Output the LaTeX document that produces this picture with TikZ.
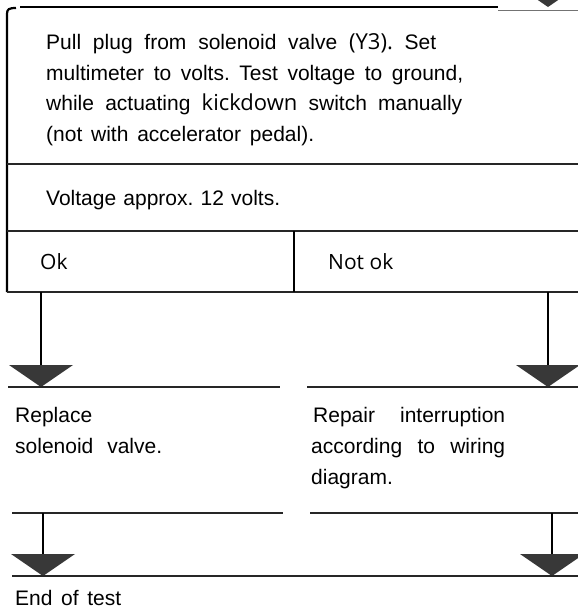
\documentclass[tikz,border=0pt]{standalone}
\usepackage{fontspec}
\setmainfont{Liberation Sans}
\newfontfamily\labelfont{Open Sans}
\frenchspacing
% justified line of a given width
\newcommand\jline[2]{\makebox[#1pt][s]{#2}}
% filled triangular arrow head hanging below a point
\newcommand\drophead[1]{\fill[head] (#1) ++(-32,0) -- ++(64,0) -- ++(-32,22) -- cycle;}
\begin{document}
\begin{tikzpicture}[x=1pt,y=-1pt,
  rule/.style={line width=1.3pt, draw=black!85},
  stem/.style={line width=2pt},
  frame/.style={line width=2.2pt},
  head/.style={fill=black!78, draw=none},
  txt/.style={anchor=base west, inner sep=0pt, font=\fontsize{21}{25}\selectfont},
]
\useasboundingbox (0,0) rectangle (578,616);

% incoming arrow from the previous step
\coordinate (topin) at (548,-15);
\drophead{topin}
\draw[line width=1.6pt] (20,7) -- (498,7);
\draw[line width=1pt, draw=black!55] (498,10) -- (578,10);

% test box frame
\draw[frame] (7,292) -- (7,14) .. controls (7,9) and (9,8) .. (16,8);
\draw[rule] (7,164) -- (578,164);
\draw[rule] (7,231) -- (578,231);
\draw[rule] (7,292) -- (578,292);
\draw[stem] (294,231) -- (294,292);

% texts of the test step
\node[txt] (t1) at (46,49) {\jline{390}{Pull plug from solenoid valve {\labelfont\fontsize{22}{25}\selectfont(Y3).} Set}};
\node[txt] (t2) at (46,80) {\jline{417}{multimeter to volts. Test voltage to ground,}};
\node[txt] (t3) at (46,110) {\jline{416}{while actuating {\labelfont\fontsize{22}{25}\selectfont kickdown} switch manually}};
\node[txt] (t4) at (46,141) {\jline{268}{(not with accelerator pedal).}};
\node[txt] (t5) at (46,205) {\jline{234}{Voltage approx. 12 volts.}};
\node[txt] (ok) at (40,269) {\labelfont Ok};
\node[txt] (nok) at (328,269) {\labelfont Not ok};

% branch: ok
\coordinate (okout) at (41,292);
\coordinate (okin) at (41,365);
\draw[stem] (okout) -- (okin);
\drophead{okin}
\draw[rule] (8,387) -- (280,387);
\node[txt] (r1) at (15,422) {Replace};
\node[txt] (r2) at (15,453) {\jline{147}{solenoid valve.}};
\draw[rule] (12,513) -- (283,513);

% branch: not ok
\coordinate (nokout) at (548,292);
\coordinate (nokin) at (548,365);
\draw[stem] (nokout) -- (nokin);
\drophead{nokin}
\draw[rule] (307,387) -- (578,387);
\node[txt] (w1) at (313,422) {\jline{192}{Repair interruption}};
\node[txt] (w2) at (311,453) {\jline{194}{according to wiring}};
\node[txt] (w3) at (311,484) {diagram.};
\draw[rule] (310,513) -- (578,513);

% both branches lead to the end
\coordinate (aout) at (43,513);
\coordinate (ain) at (43,554);
\draw[stem] (aout) -- (ain);
\drophead{ain}
\coordinate (bout) at (552,513);
\coordinate (bin) at (552,554);
\draw[stem] (bout) -- (bin);
\drophead{bin}
\draw[rule] (12,576) -- (578,576);
\node[txt] (end) at (15,605) {\jline{106}{End of test}};
\end{tikzpicture}
\end{document}
